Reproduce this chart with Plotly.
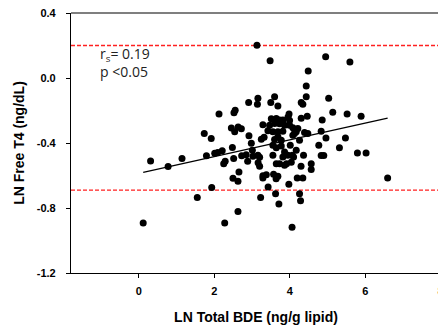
import plotly.graph_objects as go
import numpy as np

# LN Total BDE (ng/g lipid)
ln_bde = [
    0.114, 0.310, 0.775, 1.143, 1.548, 1.733, 1.918, 1.791, 2.011, 2.090,
    2.209, 2.249, 2.288, 1.931, 2.275, 2.124, 2.452, 2.553, 2.521, 2.632,
    2.717, 2.540, 2.479, 2.513, 2.725, 2.844, 2.653, 2.495, 2.627, 2.627,
    2.884, 2.910, 3.130, 3.156, 3.143, 2.918, 2.981, 3.008, 3.024, 3.156,
    3.201, 3.161, 3.201, 3.228, 3.288, 3.246, 3.320, 3.288, 3.378, 3.288,
    3.426, 3.479, 3.598, 3.497, 3.685, 3.511, 3.643, 3.730, 3.817, 3.466,
    3.598, 3.730, 3.862, 3.421, 3.553, 3.685, 3.817, 3.685, 3.775, 3.598,
    3.553, 3.643, 3.775, 3.553, 3.817, 3.862, 3.950, 3.643, 3.730, 3.862,
    3.915, 3.571, 3.685, 3.638, 3.624, 3.712, 3.976, 4.061, 3.981, 3.955,
    3.995, 3.995, 4.082, 4.127, 4.214, 4.172, 4.127, 4.082, 4.392, 4.479,
    4.259, 4.013, 4.172, 4.066, 4.101, 4.040, 4.299, 4.365, 4.198, 4.347,
    4.259, 4.286, 4.304, 4.347, 4.437, 4.437, 4.489, 4.304, 4.463, 4.569,
    4.569, 4.770, 4.833, 4.902, 4.860, 4.833, 4.960, 4.952, 5.032, 5.140,
    5.317, 5.476, 5.521, 5.595, 5.794, 6.024, 5.892, 6.595,
]

# LN Free T4 (ng/dL)
ln_ft4 = [
    -0.892, -0.510, -0.544, -0.495, -0.736, -0.341, -0.372, -0.478, -0.463, -0.459,
    -0.448, -0.527, -0.512, -0.674, -0.892, -0.222, -0.307, -0.198, -0.214, -0.301,
    -0.312, -0.331, -0.428, -0.496, -0.478, -0.472, -0.578, -0.617, -0.636, -0.821,
    -0.512, -0.151, 0.201, -0.125, -0.162, -0.355, -0.401, -0.444, -0.481, -0.475,
    -0.488, -0.522, -0.543, -0.736, -0.287, -0.377, -0.364, -0.602, -0.596, -0.615,
    -0.671, 0.106, -0.115, -0.150, -0.173, -0.251, -0.249, -0.259, -0.259, -0.290,
    -0.280, -0.281, -0.290, -0.324, -0.331, -0.331, -0.327, -0.362, -0.383, -0.378,
    -0.414, -0.429, -0.419, -0.475, -0.486, -0.455, -0.475, -0.527, -0.527, -0.537,
    -0.527, -0.593, -0.605, -0.620, -0.712, -0.776, -0.654, -0.918, -0.221, -0.240,
    -0.262, -0.290, -0.306, -0.317, -0.310, -0.331, -0.341, -0.352, -0.336, -0.341,
    -0.383, -0.414, -0.444, -0.475, -0.486, -0.519, -0.543, -0.475, -0.615, -0.615,
    -0.712, -0.756, -0.151, -0.162, -0.115, -0.049, 0.043, -0.247, -0.236, -0.527,
    -0.563, -0.414, -0.477, -0.477, -0.259, -0.327, -0.369, 0.131, -0.125, -0.210,
    -0.429, -0.369, -0.222, 0.099, -0.461, -0.461, -0.235, -0.615,
]

# regression line
fit_intercept = -0.586
fit_slope = 0.0515

# reference range lines
ref_upper = 0.2
ref_lower = -0.69

x_ticks = [0, 2, 4, 6, 8]
y_ticks = [-1.2, -0.8, -0.4, 0.0, 0.4]
y_tick_text = ["-1.2", "-0.8", "-0.4", "0.0", "0.4"]

x_range = [-1.8, 8.01]
y_range = [-1.2, 0.4]

fig = go.Figure()

fit_x = np.array([min(ln_bde), max(ln_bde)])
fit_y = fit_intercept + fit_slope * fit_x

fig.add_trace(go.Scatter(
    x=ln_bde, y=ln_ft4, mode="markers",
    marker=dict(color="black", size=7, line=dict(width=0)),
    showlegend=False, hoverinfo="skip",
))
fig.add_trace(go.Scatter(
    x=fit_x, y=fit_y, mode="lines",
    line=dict(color="black", width=1.3),
    showlegend=False, hoverinfo="skip",
))

for yv in (ref_upper, ref_lower):
    fig.add_shape(type="line", xref="paper", x0=0, x1=1, yref="y", y0=yv, y1=yv,
                  layer="below", line=dict(color="#ff2020", width=1.3, dash="4px,2px"))

# frame: top black, right grey
fig.add_shape(type="line", xref="paper", yref="paper", x0=0, x1=1, y0=1, y1=1,
              line=dict(color="black", width=1.2))
fig.add_shape(type="line", xref="paper", yref="paper", x0=1, x1=1, y0=0, y1=1,
              line=dict(color="#808080", width=1.5))

fig.add_annotation(
    xref="paper", yref="paper", x=0.072, y=0.89, xanchor="left", yanchor="top",
    text="r<sub>s</sub>= 0.19<br>p <0.05", showarrow=False, align="left",
    font=dict(family="Open Sans, Liberation Sans, sans-serif", size=14, color="#222222"),
)

axis_font = dict(family="Arial, Liberation Sans, sans-serif", size=11, color="black")
title_font = dict(family="Arial, Liberation Sans, sans-serif", size=14, color="black")

# the page body adds an 8px margin, so the figure is sized to fit inside the window
fig.update_layout(
    width=438, height=317,
    margin=dict(l=63, r=5, t=5, b=52, autoexpand=False),
    paper_bgcolor="white", plot_bgcolor="white",
    xaxis=dict(
        range=x_range, tickvals=x_ticks, ticktext=["<b>%d</b>" % v for v in x_ticks],
        showgrid=False, zeroline=False, showline=True, linecolor="black", linewidth=1.2,
        ticks="outside", ticklen=4, tickcolor="black", tickfont=axis_font, automargin=False,
        ticklabeloverflow="allow", ticklabelstandoff=4,
        title=dict(text="<b>LN Total BDE (ng/g lipid)</b>", font=title_font, standoff=15),
    ),
    yaxis=dict(
        range=y_range, tickvals=y_ticks, ticktext=["<b>%s</b>" % t for t in y_tick_text],
        showgrid=False, zeroline=False, showline=True, linecolor="black", linewidth=1.2,
        ticks="outside", ticklen=4, tickcolor="black", tickfont=axis_font, automargin=False,
        ticklabelstandoff=8, ticklabeloverflow="allow",
        title=dict(text="<b>LN Free T4 (ng/dL)</b>", font=title_font, standoff=8),
    ),
)

fig.write_html("out.html")
